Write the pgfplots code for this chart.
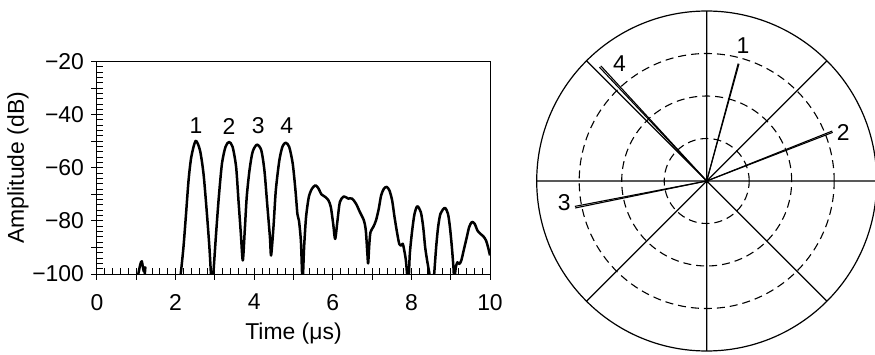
\documentclass[border=0pt]{standalone}
\usepackage{fontspec}
\setmainfont{Liberation Sans}
\usepackage{pgfplots}
\pgfplotsset{compat=1.18}
\usepgfplotslibrary{polar}
\newcommand{\lblfont}{\fontsize{11.5}{13}\selectfont}
\begin{document}
\begin{tikzpicture}
\path[use as bounding box] (-48.5bp,-40.5bp) rectangle (389bp,137bp);
\begin{axis}[
  at={(0,0)}, anchor=south west,
  scale only axis, width=196.5bp, height=106.25bp,
  xmin=0, xmax=10, ymin=-100, ymax=-20,
  xtick={0,1,...,10}, xticklabels={0,,2,,4,,6,,8,,10},
  ytick={-100,-90,...,-20}, yticklabels={−100,,−80,,−60,,−40,,−20},
  minor x tick num=4, minor y tick num=4,
  xtick pos=bottom, ytick pos=left,
  tick align=inside,
  major tick length=3bp, minor tick length=3bp,
  extra x ticks={0,1,...,10}, extra y ticks={-100,-90,...,-20},
  extra x tick labels={}, extra y tick labels={},
  extra tick style={tick align=center, major tick length=5.5bp, grid=none},
  tick style={black, line width=0.5bp},
  axis line style={black, line width=0.5bp},
  /pgf/number format/assume math mode=true,
  every tick label/.append style={font=\lblfont},
  xticklabel style={yshift=-6.5bp},
  yticklabel style={xshift=-3bp},
  xlabel={Time (μs)}, ylabel={Amplitude (dB)},
  every axis x label/.style={at={(axis description cs:0.5,-0.28)}, anchor=center, font=\lblfont},
  every axis y label/.style={at={(axis description cs:-0.201,0.5)}, anchor=center, rotate=90, font=\lblfont},
]
\addplot[black, line width=1.25bp, smooth, tension=0.45, line join=round] coordinates {
(1.00,-103) (1.05,-100) (1.10,-96.5) (1.14,-95.2) (1.19,-99) (1.23,-97.5) (1.27,-103)
(2.08,-104) (2.13,-100) (2.20,-89.9) (2.26,-78.5) (2.33,-64.7) (2.40,-55.9) (2.51,-49.9)
(2.62,-53.4) (2.71,-62.2) (2.79,-76.0) (2.86,-89.9) (2.90,-100) (2.93,-104) (2.96,-100)
(3.03,-84.8) (3.10,-71) (3.18,-58.4) (3.27,-52.1) (3.36,-50.3) (3.45,-52.1) (3.54,-59.7)
(3.60,-72.3) (3.66,-84.8) (3.71,-94.9) (3.76,-83.6) (3.81,-71) (3.88,-61) (3.96,-54.0)
(4.07,-51.3) (4.18,-53.4) (4.26,-61) (4.33,-73.5) (4.40,-86.1) (4.43,-93.0) (4.49,-82.4)
(4.55,-68.5) (4.64,-57.2) (4.72,-52.0) (4.80,-50.6) (4.89,-52.1) (4.98,-58.4) (5.05,-68.5)
(5.10,-77.5) (5.14,-80) (5.19,-88) (5.23,-103) (5.27,-89.9) (5.32,-78.5) (5.39,-71)
(5.47,-67.9) (5.56,-66.6) (5.64,-67.9) (5.71,-70.0) (5.81,-71) (5.89,-72.3) (5.95,-74.8)
(6.01,-81.1) (6.06,-86.8) (6.12,-79.8) (6.18,-72.9) (6.28,-70.8) (6.39,-71.6) (6.49,-71.6)
(6.59,-73.5) (6.69,-76.7) (6.79,-79.8) (6.84,-83.6) (6.88,-92.4) (6.90,-96) (6.93,-88.6)
(6.96,-84.2) (7.03,-82.3) (7.10,-79.8) (7.17,-75.4) (7.23,-70.4) (7.30,-67.9) (7.37,-67.2)
(7.44,-68.5) (7.51,-72.3) (7.57,-78.5) (7.64,-84.8) (7.69,-88.6) (7.74,-89.3) (7.78,-88.6)
(7.81,-90.5) (7.86,-94.9) (7.92,-104) (7.96,-92.4) (8.02,-83.6) (8.08,-77.3) (8.15,-74.5)
(8.24,-76.7) (8.30,-82.3) (8.35,-89.9) (8.40,-94.9) (8.46,-100) (8.50,-104) (8.56,-103)
(8.58,-100) (8.63,-89.9) (8.68,-82.3) (8.74,-77.3) (8.85,-75.1) (8.93,-77.3) (8.98,-82.3)
(9.03,-89.9) (9.07,-97.5) (9.09,-102) (9.13,-97.5) (9.17,-95.6) (9.22,-96.2) (9.27,-94.9)
(9.34,-90.5) (9.41,-86.1) (9.47,-82.3) (9.54,-80.4) (9.61,-81.1) (9.68,-83.6) (9.75,-84.8)
(9.83,-85.8) (9.90,-87.4) (9.95,-89.9) (10.0,-93)
};
\node[font=\lblfont] at (axis cs:2.52,-44.3) {1};
\node[font=\lblfont] at (axis cs:3.36,-44.3) {2};
\node[font=\lblfont] at (axis cs:4.10,-44.3) {3};
\node[font=\lblfont] at (axis cs:4.83,-44.3) {4};
\end{axis}
\begin{polaraxis}[
  at={(304.85bp,46.5bp)}, anchor=center,
  scale only axis, width=170bp, height=170bp,
  xmin=0, xmax=360, ymin=0, ymax=4,
  xtick={0,45,...,315}, ytick={1,2,3},
  xticklabels={}, yticklabels={},
  grid=major,
  x grid style={solid, black, line width=0.6bp},
  y grid style={black, line width=0.55bp, dash pattern=on 4bp off 2.5bp},
  separate axis lines,
  x axis line style={black, line width=0.6bp},
  y axis line style={draw=none},
  tick style={draw=none},
]
\addplot[black, line width=0.55bp, no marks] coordinates {(74.6,0) (74.6,2.86)};
\addplot[black, line width=0.55bp, no marks] coordinates {(75.0,0) (75.0,2.86)};
\addplot[black, line width=0.55bp, no marks] coordinates {(21.1,0) (21.1,3.18)};
\addplot[black, line width=0.55bp, no marks] coordinates {(21.7,0) (21.7,3.18)};
\addplot[black, line width=0.55bp, no marks] coordinates {(190.9,0) (190.9,3.16)};
\addplot[black, line width=0.55bp, no marks] coordinates {(191.6,0) (191.6,3.16)};
\addplot[black, line width=0.55bp, no marks] coordinates {(132.6,0) (132.6,3.68)};
\addplot[black, line width=0.55bp, no marks] coordinates {(133.3,0) (133.3,3.68)};
\node[font=\lblfont] at (axis cs:75,3.30) {1};
\node[font=\lblfont] at (axis cs:19.6,3.41) {2};
\node[font=\lblfont] at (axis cs:188.5,3.39) {3};
\node[font=\lblfont] at (axis cs:126.5,3.45) {4};
\end{polaraxis}
\end{tikzpicture}
\end{document}
